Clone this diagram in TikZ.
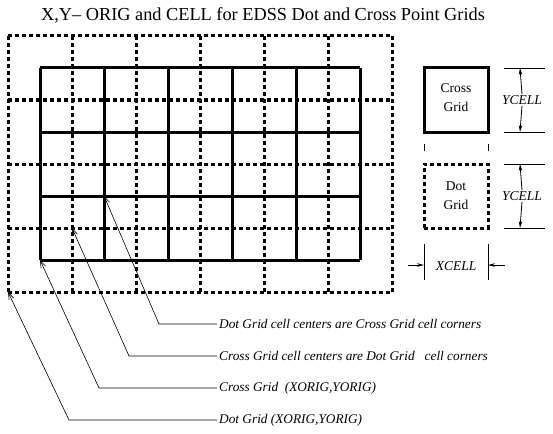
\documentclass[tikz,border=0pt]{standalone}
\usepackage{fontspec}
\setmainfont{Liberation Serif}
\usetikzlibrary{arrows.meta}
\begin{document}
\begin{tikzpicture}[x=1pt,y=-1pt,
  solidline/.style={line width=3pt},
  dotline/.style={line width=3pt,dash pattern=on 4pt off 3pt},
  thinline/.style={line width=0.8pt},
  leader/.style={line width=0.6pt,{Straight Barb[length=7pt,width=5pt]}-},
  dimarrow/.style={line width=0.8pt,-{Stealth[length=7pt,width=3.5pt]}},
  lbl/.style={font=\fontsize{13.3}{15}\selectfont\itshape,anchor=west,inner sep=0pt},
  boxtxt/.style={font=\fontsize{13.5}{15}\selectfont,align=center,inner sep=0pt},
  dimtxt/.style={font=\fontsize{13.5}{15}\selectfont\itshape,inner sep=1pt}]
\useasboundingbox (0,0) rectangle (553,433);
\node[font=\fontsize{18.3}{20}\selectfont] (title) at (263,15) {X,Y-- ORIG and CELL for EDSS Dot and Cross Point Grids};
% dot grid
\foreach \x in {8,72,...,392} \draw[dotline] (\x,36) -- (\x,292);
\foreach \y in {36,100,...,292} \draw[dotline] (8,\y) -- (392,\y);
% cross grid
\foreach \x in {40,104,...,360} \draw[solidline] (\x,68) -- (\x,260);
\foreach \y in {68,132,...,260} \draw[solidline] (40,\y) -- (360,\y);
% legend boxes
\node[draw,solidline,minimum size=64pt,inner sep=0pt] (cbox) at (456,100) {};
\node[boxtxt] (ctxt) at (456,98) {Cross\\[4pt]Grid};
\node[draw,dotline,minimum size=64pt,inner sep=0pt] (dbox) at (456,196) {};
\node[boxtxt] (dtxt) at (456,196) {Dot\\[4pt]Grid};
\draw[thinline] (424,144) -- (424,151);
\draw[thinline] (488,144) -- (488,151);
% YCELL dims
\foreach \t/\b/\n in {68/132/a,164/228/b}{
  \coordinate (yt\n) at (520,\t);
  \coordinate (yb\n) at (520,\b);
  \draw[thinline] (504,\t) -- (545,\t);
  \draw[thinline] (504,\b) -- (545,\b);
  \node[dimtxt] (ycell\n) at (522,{(\t+\b)/2}) {YCELL};
  \draw[dimarrow] (ycell\n.north) -- (yt\n);
  \draw[dimarrow] (ycell\n.south) -- (yb\n);
}
% XCELL dims
\draw[thinline] (424,244) -- (424,280);
\draw[thinline] (488,244) -- (488,280);
\coordinate (xl) at (424,265);
\coordinate (xr) at (488,265);
\coordinate (xls) at (408,265);
\coordinate (xrs) at (505,265);
\node[dimtxt,inner sep=0pt] (xcell) at (456,266) {XCELL};
\draw[dimarrow] (xls) -- (xl);
\draw[dimarrow] (xrs) -- (xr);
% leaders
\coordinate (t1) at (104,196);
\coordinate (t2) at (72,228);
\coordinate (t3) at (40,260);
\coordinate (t4) at (8,292);
\coordinate (e1) at (159,324);
\coordinate (e2) at (129,356);
\coordinate (e3) at (99,388);
\coordinate (e4) at (69,420);
\node[lbl] (l1) at (219,324) {Dot Grid cell centers are Cross Grid cell corners};
\node[lbl] (l2) at (219,356) {Cross Grid cell centers are Dot Grid\ \ \ cell corners};
\node[lbl] (l3) at (219,388) {Cross Grid\ \ (XORIG,YORIG)};
\node[lbl] (l4) at (219,420) {Dot Grid (XORIG,YORIG)};
\draw[leader] (t1) -- (e1) -- ([xshift=-2pt]l1.west);
\draw[leader] (t2) -- (e2) -- ([xshift=-2pt]l2.west);
\draw[leader] (t3) -- (e3) -- ([xshift=-2pt]l3.west);
\draw[leader] (t4) -- (e4) -- ([xshift=-2pt]l4.west);
\end{tikzpicture}
\end{document}
